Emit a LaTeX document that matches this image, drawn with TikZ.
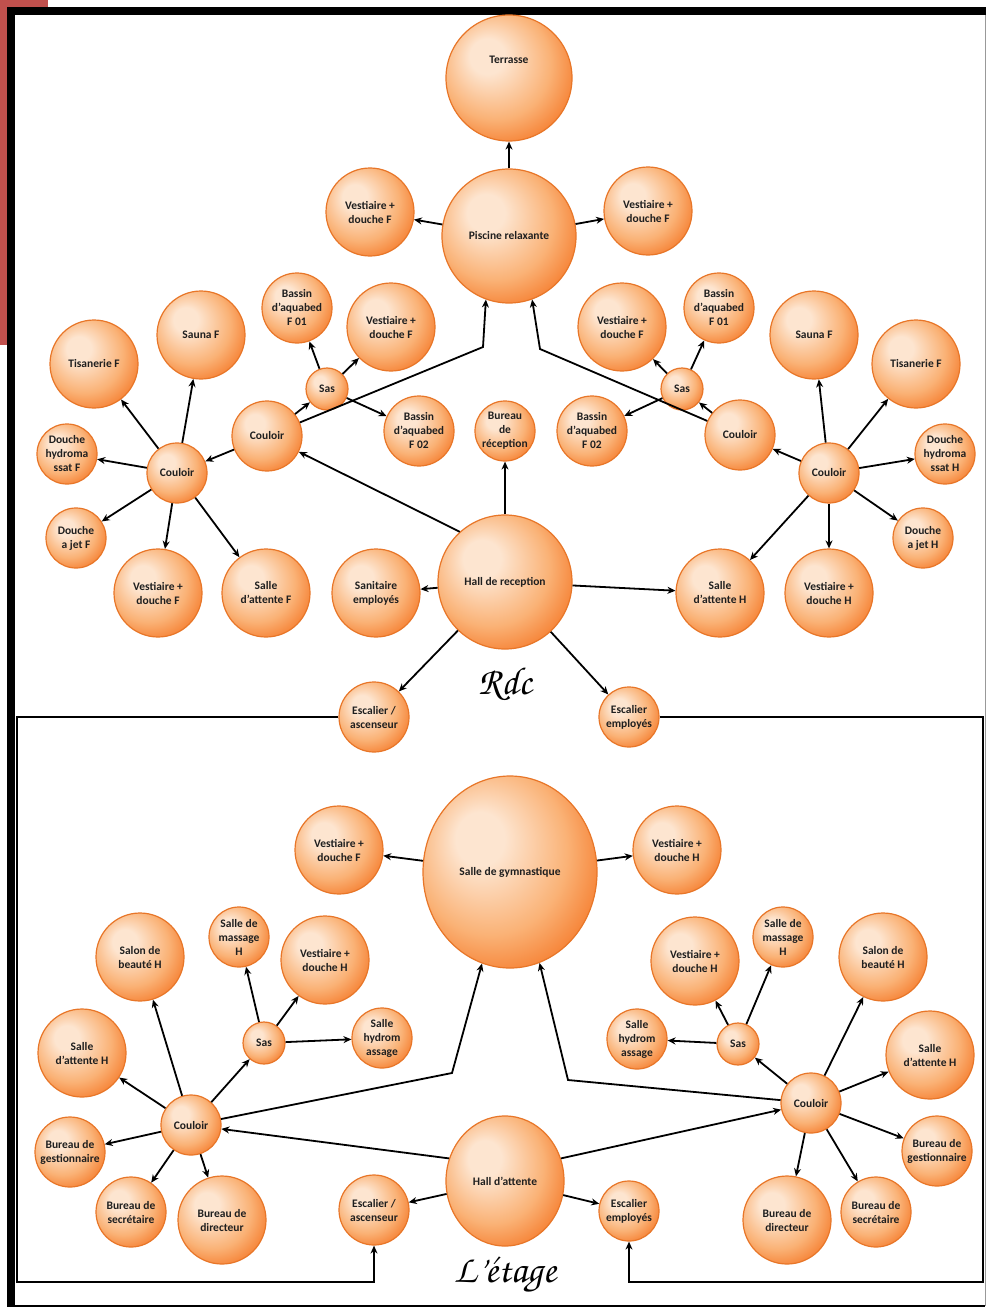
\documentclass[tikz,border=0pt]{standalone}
\usepackage[T1]{fontenc}
\usepackage{fontspec}
\setmainfont{Carlito}
\usepackage{tikz}
\usetikzlibrary{arrows.meta,shapes.geometric}

\definecolor{peach}{RGB}{253,229,208}
\definecolor{apricot}{RGB}{250,178,118}
\definecolor{tangerine}{RGB}{244,110,26}
\definecolor{rim}{RGB}{232,118,40}
\definecolor{framered}{RGB}{192,80,77}

\pgfdeclareradialshading{roomglow}{\pgfpoint{-10bp}{10bp}}{color(0bp)=(peach); color(7bp)=(peach); color(22bp)=(apricot); color(35bp)=(tangerine); color(50bp)=(tangerine)}

\newcommand{\levelfont}{\fontencoding{T1}\fontfamily{pzc}\fontseries{m}\fontshape{it}\fontsize{39}{40}\selectfont}

\tikzset{
  roomtext/.style={text=black!88, align=center, font=\bfseries\fontsize{11.5}{14}\selectfont},
  room/.style={circle, draw=rim, line width=1.2pt, shading=roomglow, inner sep=0pt, roomtext, minimum size=88pt},
  bigroom/.style={room, minimum size=134pt},
  midroom/.style={room, minimum size=70pt},
  smallroom/.style={room, minimum size=60pt},
  sasroom/.style={room, minimum size=42pt},
  ovalroom/.style={room, ellipse},
  link/.style={line width=1.8pt, -{Stealth[length=8pt,width=7pt]}},
  levelname/.style={font=\levelfont, text=black}
}

\begin{document}
\begin{tikzpicture}[x=1pt,y=-1pt]
\useasboundingbox (0,0) rectangle (986,1308);
\fill[framered] (0,0) rectangle (48,345);
\fill[white] (7,7) rectangle (985,1306);
\fill[black] (7,7) rectangle (986,15);
\fill[black] (7,7) rectangle (15,1307);
\draw[line width=1.5pt] (15,1306) -- (985,1306);
\draw[black!40, line width=1pt] (985,15) -- (985,1306);

% rez-de-chaussee
\node[bigroom, minimum size=126pt, label={[roomtext, yshift=18pt]center:Terrasse}] (terrasse) at (509,78) {};
\node[bigroom] (piscine) at (509,236) {Piscine relaxante};
\node[room] (vestTopL) at (370,212) {Vestiaire +\\douche F};
\node[room] (vestTopR) at (648,211) {Vestiaire +\\douche F};

\node[midroom] (bassinAL) at (297,308) {Bassin\\d'aquabed\\F 01};
\node[room] (vestSasL) at (391,327) {Vestiaire +\\douche F};
\node[room] (saunaL) at (201,335) {Sauna F};
\node[room] (tisaneL) at (94,364) {Tisanerie F};
\node[sasroom] (sasL) at (327,389) {Sas};
\node[midroom] (bassinBL) at (419,431) {Bassin\\d'aquabed\\F 02};
\node[midroom] (couloirAL) at (267,436) {Couloir};
\node[smallroom] (couloirBL) at (177,473) {Couloir};
\node[smallroom] (hydroL) at (67,454) {Douche\\hydroma\\ssat F};
\node[smallroom] (jetL) at (76,538) {Douche\\a jet F};
\node[room] (vestBL) at (158,593) {Vestiaire +\\douche F};
\node[room] (attenteF) at (266,593) {Salle\\d'attente F};
\node[room] (sanitaire) at (376,593) {Sanitaire\\employés};

\node[bigroom] (hall) at (505,582) {Hall de reception};
\node[smallroom] (bureauRec) at (505,431) {Bureau\\de\\réception};
\node[midroom] (escAsc) at (374,717) {Escalier /\\ascenseur};
\node[smallroom] (escEmp) at (629,717) {Escalier\\employés};

\node[midroom] (bassinAR) at (719,308) {Bassin\\d'aquabed\\F 01};
\node[room] (vestSasR) at (622,327) {Vestiaire +\\douche F};
\node[room] (saunaR) at (814,335) {Sauna F};
\node[room] (tisaneR) at (916,364) {Tisanerie F};
\node[sasroom] (sasR) at (682,389) {Sas};
\node[midroom] (bassinBR) at (592,431) {Bassin\\d'aquabed\\F 02};
\node[midroom] (couloirAR) at (740,435) {Couloir};
\node[smallroom] (couloirBR) at (829,473) {Couloir};
\node[smallroom] (hydroR) at (945,454) {Douche\\hydroma\\ssat H};
\node[smallroom] (jetR) at (923,538) {Douche\\a jet H};
\node[room] (vestBR) at (829,593) {Vestiaire +\\douche H};
\node[room] (attenteH) at (720,593) {Salle\\d'attente H};

\node[levelname] (rdc) at (505,684) {Rdc};

\coordinate (bendL) at (483,347);
\coordinate (bendR) at (540,349);

\draw[link] (piscine) -- (terrasse);
\draw[link] (piscine) -- (vestTopL);
\draw[link] (piscine) -- (vestTopR);

\draw[link] (hall) -- (bureauRec);
\draw[link] (hall) -- (sanitaire);
\draw[link] (hall) -- (attenteH);
\draw[link] (hall) -- (escAsc);
\draw[link] (hall) -- (escEmp);
\draw[link] (hall.132) -- (couloirAL);

\draw[link] (couloirAL) -- (couloirBL);
\draw[link] (couloirAL) -- (sasL);
\draw[link] (couloirAL) -- (bendL) -- (piscine.250);
\draw[link] (sasL) -- (bassinAL);
\draw[link] (sasL) -- (vestSasL);
\draw[link] (sasL) -- (bassinBL);
\draw[link] (couloirBL) -- (tisaneL);
\draw[link] (couloirBL) -- (saunaL);
\draw[link] (couloirBL) -- (hydroL);
\draw[link] (couloirBL) -- (jetL);
\draw[link] (couloirBL) -- (vestBL);
\draw[link] (couloirBL) -- (attenteF);

\draw[link] (couloirBR) -- (couloirAR);
\draw[link] (couloirBR) -- (saunaR);
\draw[link] (couloirBR) -- (tisaneR);
\draw[link] (couloirBR) -- (hydroR);
\draw[link] (couloirBR) -- (jetR);
\draw[link] (couloirBR) -- (vestBR);
\draw[link] (couloirBR) -- (attenteH);
\draw[link] (couloirAR) -- (sasR);
\draw[link] (couloirAR) -- (bendR) -- (piscine.290);
\draw[link] (sasR) -- (vestSasR);
\draw[link] (sasR) -- (bassinAR);
\draw[link] (sasR) -- (bassinBR);

% etage
\node[ovalroom, minimum width=174pt, minimum height=192pt] (gym) at (510,872) {Salle de gymnastique};
\node[room] (gvestF) at (339,850) {Vestiaire +\\douche F};
\node[room] (gvestH) at (677,850) {Vestiaire +\\douche H};

\node[room] (beauteL) at (140,957) {Salon de\\beauté H};
\node[smallroom] (massageL) at (239,937) {Salle de\\massage\\H};
\node[room] (vestSasEL) at (325,960) {Vestiaire +\\douche H};
\node[room] (attenteEL) at (82,1053) {Salle\\d'attente H};
\node[sasroom] (sasEL) at (264,1043) {Sas};
\node[smallroom] (hydroEL) at (382,1038) {Salle\\hydrom\\assage};
\node[smallroom] (couloirEL) at (191,1125) {Couloir};
\node[midroom] (gestionL) at (70,1152) {Bureau de\\gestionnaire};
\node[midroom] (secretL) at (131,1212) {Bureau de\\secrétaire};
\node[room] (directL) at (222,1220) {Bureau de\\directeur};

\node[ovalroom, minimum width=118pt, minimum height=130pt] (hallE) at (505,1181) {Hall d'attente};
\node[midroom] (escAscE) at (374,1210) {Escalier /\\ascenseur};
\node[smallroom] (escEmpE) at (629,1211) {Escalier\\employés};

\node[room] (vestSasER) at (695,961) {Vestiaire +\\douche H};
\node[smallroom] (massageR) at (783,937) {Salle de\\massage\\H};
\node[room] (beauteR) at (883,957) {Salon de\\beauté H};
\node[smallroom] (hydroER) at (637,1039) {Salle\\hydrom\\assage};
\node[sasroom] (sasER) at (738,1044) {Sas};
\node[room] (attenteER) at (930,1055) {Salle\\d'attente H};
\node[smallroom] (couloirER) at (811,1103) {Couloir};
\node[midroom] (gestionR) at (937,1151) {Bureau de\\gestionnaire};
\node[room] (directR) at (787,1220) {Bureau de\\directeur};
\node[midroom] (secretR) at (876,1212) {Bureau de\\secrétaire};

\node[levelname] (etage) at (505,1276) {L'étage};

\coordinate (gbendL) at (452,1073);
\coordinate (gbendR) at (568,1080);
\coordinate (floorL) at (17,1282);
\coordinate (floorR) at (983,1282);

\draw[link] (gym) -- (gvestF);
\draw[link] (gym) -- (gvestH);

\draw[link] (hallE.158) -- (couloirEL);
\draw[link] (hallE.22) -- (couloirER);
\draw[link] (hallE) -- (escAscE);
\draw[link] (hallE) -- (escEmpE);

\draw[link] (couloirEL) -- (beauteL);
\draw[link] (couloirEL) -- (attenteEL);
\draw[link] (couloirEL) -- (gestionL);
\draw[link] (couloirEL) -- (secretL);
\draw[link] (couloirEL) -- (directL);
\draw[link] (couloirEL) -- (sasEL);
\draw[link] (couloirEL) -- (gbendL) -- (gym.253);
\draw[link] (sasEL) -- (massageL);
\draw[link] (sasEL) -- (vestSasEL);
\draw[link] (sasEL) -- (hydroEL);

\draw[link] (couloirER) -- (sasER);
\draw[link] (couloirER) -- (beauteR);
\draw[link] (couloirER) -- (attenteER);
\draw[link] (couloirER) -- (gestionR);
\draw[link] (couloirER) -- (directR);
\draw[link] (couloirER) -- (secretR);
\draw[link] (couloirER) -- (gbendR) -- (gym.288);
\draw[link] (sasER) -- (hydroER);
\draw[link] (sasER) -- (vestSasER);
\draw[link] (sasER) -- (massageR);

\draw[link] (escAsc.west) -| (floorL) -| (escAscE.south);
\draw[link] (escEmp.east) -| (floorR) -| (escEmpE.south);
\end{tikzpicture}
\end{document}
